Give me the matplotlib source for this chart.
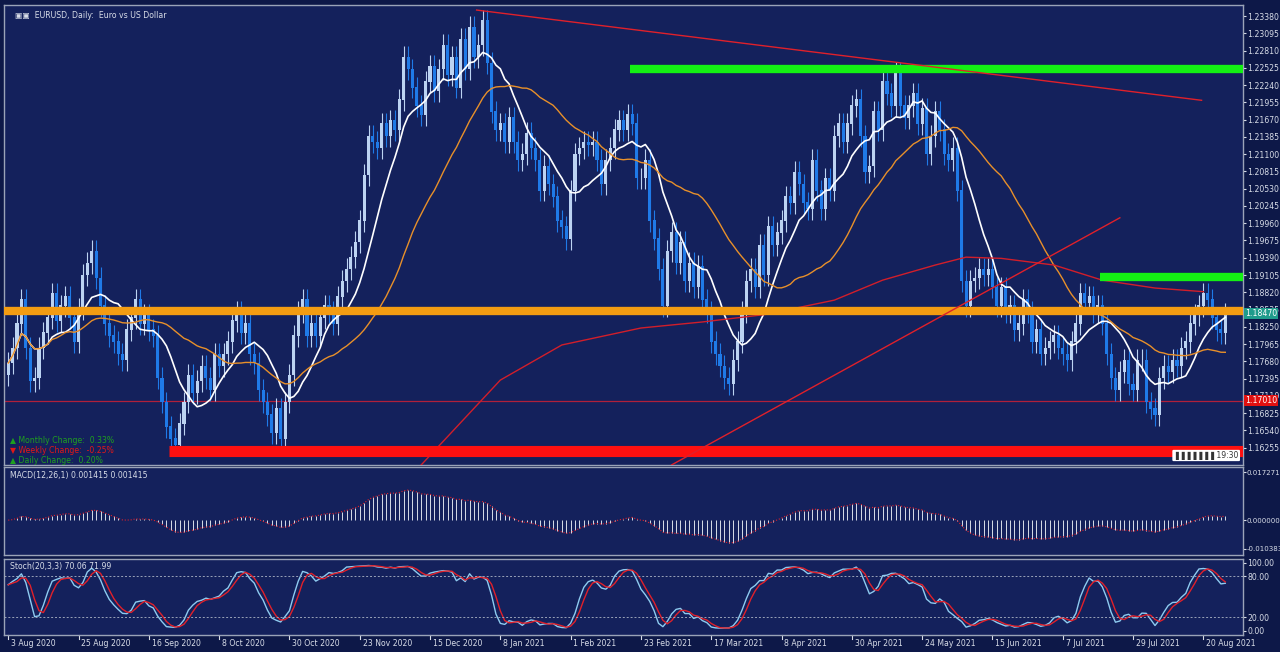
import matplotlib
matplotlib.use("Agg")
import matplotlib.pyplot as plt
import numpy as np
import pandas as pd

closes = [
1.1765,1.1790,1.1830,1.1870,1.1790,1.1735,1.1740,1.1790,1.1815,1.1840,1.1880,1.1835,1.1860,1.1875,1.1840,1.1800,
1.1855,1.1910,1.1930,1.1950,1.1905,1.1860,1.1830,1.1810,1.1800,1.1780,1.1770,1.1820,1.1840,1.1870,1.1830,1.1845,
1.1820,1.1810,1.1740,1.1700,1.1660,1.1640,1.1630,1.1665,1.1700,1.1745,1.1715,1.1735,1.1760,1.1740,1.1720,1.1780,
1.1760,1.1780,1.1800,1.1835,1.1850,1.1815,1.1830,1.1780,1.1765,1.1720,1.1700,1.1680,1.1650,1.1690,1.1640,1.1700,
1.1745,1.1810,1.1850,1.1870,1.1810,1.1830,1.1810,1.1840,1.1860,1.1850,1.1830,1.1875,1.1900,1.1920,1.1940,1.1965,
1.2000,1.2075,1.2140,1.2130,1.2120,1.2160,1.2140,1.2165,1.2150,1.2200,1.2270,1.2250,1.2220,1.2190,1.2175,1.2230,
1.2255,1.2215,1.2250,1.2290,1.2240,1.2270,1.2220,1.2300,1.2250,1.2320,1.2270,1.2290,1.2330,1.2260,1.2180,1.2150,
1.2160,1.2130,1.2170,1.2130,1.2100,1.2110,1.2145,1.2120,1.2100,1.2050,1.2090,1.2060,1.2040,1.2000,1.1990,1.1970,
1.2050,1.2110,1.2120,1.2130,1.2125,1.2130,1.2100,1.2060,1.2100,1.2120,1.2150,1.2165,1.2150,1.2175,1.2160,1.2070,
1.2070,1.2100,1.2000,1.1970,1.1920,1.1860,1.1950,1.1980,1.1930,1.1965,1.1900,1.1930,1.1890,1.1925,1.1870,1.1850,
1.1800,1.1780,1.1760,1.1740,1.1730,1.1770,1.1800,1.1850,1.1900,1.1920,1.1890,1.1960,1.1910,1.1990,1.1960,1.1980,
1.2000,1.2040,1.2030,1.2080,1.2060,1.2030,1.2020,1.2100,1.2050,1.2020,1.2070,1.2050,1.2140,1.2160,1.2130,1.2160,
1.2190,1.2200,1.2140,1.2080,1.2090,1.2180,1.2150,1.2230,1.2210,1.2190,1.2245,1.2190,1.2170,1.2190,1.2210,1.2160,
1.2185,1.2110,1.2140,1.2180,1.2150,1.2110,1.2100,1.2120,1.2050,1.1900,1.1860,1.1900,1.1905,1.1920,1.1910,1.1920,
1.1890,1.1860,1.1890,1.1850,1.1860,1.1820,1.1830,1.1870,1.1850,1.1800,1.1820,1.1780,1.1790,1.1800,1.1810,1.1790,
1.1780,1.1770,1.1800,1.1830,1.1880,1.1865,1.1875,1.1850,1.1860,1.1830,1.1780,1.1740,1.1720,1.1750,1.1770,1.1730,
1.1720,1.1770,1.1770,1.1700,1.1690,1.1680,1.1740,1.1760,1.1750,1.1770,1.1760,1.1790,1.1800,1.1830,1.1845,1.1860,
1.1880,1.1870,1.1840,1.1820,1.1815,1.1847]
first_open = 1.1745
ma200_idx = [94, 112, 126, 144, 158, 172, 188, 199, 211, 218, 226, 238, 249, 261, 272]
ma200_val = [1.1597,1.1737,1.1795,1.1823,1.1833,1.1845,1.1869,1.1902,1.1927,1.1940,1.1938,1.1927,1.1902,1.1889,1.1883]
res_green_top = 1.2251
res_green_low = 1.1907
orange_level = 1.1851
red_support = 1.1620
thin_red_level = 1.1703
last_price = 1.18470
down_trend = [(106.6, 1.2348), (271.6, 1.2199)]
up_trend = [(151.0, 1.1597), (253.0, 1.2005)]
price_ticks = [1.23380,1.23095,1.22810,1.22525,1.22240,1.21955,1.21670,1.21385,1.21100,1.20815,
               1.20530,1.20245,1.19960,1.19675,1.19390,1.19105,1.18820,1.18535,1.18250,1.17965,
               1.17680,1.17395,1.17110,1.16825,1.16540,1.16255]
date_labels = ['3 Aug 2020','25 Aug 2020','16 Sep 2020','8 Oct 2020','30 Oct 2020','23 Nov 2020',
               '15 Dec 2020','8 Jan 2021','1 Feb 2021','23 Feb 2021','17 Mar 2021','8 Apr 2021',
               '30 Apr 2021','24 May 2021','15 Jun 2021','7 Jul 2021','29 Jul 2021','20 Aug 2021']
WICK = 0.0018

c = np.array(closes)
o = np.concatenate([[first_open], c[:-1]])
h = np.maximum(o, c) + WICK
l = np.minimum(o, c) - WICK
n = len(c)
x = np.arange(n)
s = pd.Series(c)
ma_fast = s.rolling(10, min_periods=1).mean()
ma_slow = s.rolling(30, min_periods=1).mean()
macd = s.ewm(span=12, adjust=False).mean() - s.ewm(span=26, adjust=False).mean()
hh = pd.Series(h).rolling(20, min_periods=1).max(); ll = pd.Series(l).rolling(20, min_periods=1).min()
k = 100*(s - ll)/(hh - ll)
k = k.rolling(3, min_periods=1).mean()
d = k.rolling(3, min_periods=1).mean()

BG = '#14215c'; OUT = '#0d1848'; TXT = '#d8dde8'; GRID = '#9aa3b8'
FS = 5.6
fig = plt.figure(figsize=(12.8, 6.52), dpi=100, facecolor=OUT)
L, R = 0.003, 0.971
ax = fig.add_axes([L, 0.287, R-L, 0.705], facecolor=BG)
axm = fig.add_axes([L, 0.149, R-L, 0.134], facecolor=BG)
axs = fig.add_axes([L, 0.026, R-L, 0.117], facecolor=BG)
XL = (-1, 281)
for a in (ax, axm, axs):
    a.set_xlim(*XL)
    a.set_xticks([])
    a.yaxis.tick_right()
    a.tick_params(axis='y', colors=TXT, labelsize=FS, length=2.5, pad=0.5, direction='out')
    for sp in a.spines.values():
        sp.set_color(GRID); sp.set_linewidth(1)
axm.tick_params(axis='y', labelsize=5.0, pad=0.3)

ax.set_ylim(1.1597, 1.2356)
ax.set_yticks(price_ticks)
ax.set_yticklabels([f'{t:.5f}' for t in price_ticks])

bull = c >= o
col = np.where(bull, '#bcd3f2', '#1f7ae8')
ax.vlines(x, l, h, colors=col, lw=0.8, zorder=3)
ax.bar(x, np.abs(c-o)+0.00008, bottom=np.minimum(o, c), width=0.7, color=col, zorder=3)

ax.plot(x, ma_fast, color='white', lw=1.2, zorder=4)
ax.plot(x, ma_slow, color='#e8902a', lw=1.0, zorder=4)
ax.plot(ma200_idx, ma200_val, color='#d21e2a', lw=1.0, zorder=4)

ax.hlines(orange_level, XL[0], XL[1], color='#f39c12', lw=6, zorder=5)
ax.hlines(res_green_top, 141.5, XL[1], color='#14f014', lw=6, zorder=5)
ax.hlines(res_green_low, 248.5, XL[1], color='#14f014', lw=6, zorder=5)
ax.hlines(red_support, 36.5, XL[1], color='#ff1010', lw=8, zorder=5)
ax.hlines(thin_red_level, XL[0], XL[1], color='#b0203a', lw=0.9, zorder=2)
ax.hlines(last_price, XL[0], XL[1], color='#8090b0', lw=0.6, zorder=2)
ax.plot([p[0] for p in down_trend], [p[1] for p in down_trend], color='#e0202a', lw=1.0, zorder=5)
ax.plot([p[0] for p in up_trend], [p[1] for p in up_trend], color='#e0202a', lw=1.0, zorder=5)

ax.text(1.002, last_price, f'{last_price:.5f}', transform=ax.get_yaxis_transform(), fontsize=FS,
        color='white', va='center', ha='left', zorder=10,
        bbox=dict(boxstyle='square,pad=0.12', fc='#1f9c8c', ec='none'))
ax.text(1.002, thin_red_level, '1.17010', transform=ax.get_yaxis_transform(), fontsize=FS,
        color='white', va='center', ha='left', zorder=10,
        bbox=dict(boxstyle='square,pad=0.12', fc='#e01010', ec='none'))
ax.text(0.009, 0.988, '\u25a3\u25a3  EURUSD, Daily:  Euro vs US Dollar', transform=ax.transAxes, fontsize=FS,
        color=TXT, va='top')
ax.text(0.005, 0.052, '\u25b2 Monthly Change:  0.33%', transform=ax.transAxes, fontsize=FS, color='#1fa01f', va='center')
ax.text(0.005, 0.031, '\u25bc Weekly Change:  -0.25%', transform=ax.transAxes, fontsize=FS, color='#e01818', va='center')
ax.text(0.005, 0.010, '\u25b2 Daily Change:  0.20%', transform=ax.transAxes, fontsize=FS, color='#1fa01f', va='center')
ax.text(0.944, 0.015, '\u2590\u2590\u2590\u2590\u2590\u2590\u2590 19:30', transform=ax.transAxes, fontsize=5.5,
        color='#333', zorder=10, bbox=dict(boxstyle='round,pad=0.15', fc='white', ec='none'))

axm.vlines(x, 0, macd, colors='#d8dde8', lw=0.7)
axm.plot(x, macd, color='#e0202a', lw=0.8, ls=':')
axm.set_ylim(-0.0125, 0.0190)
axm.set_yticks([0.017271, 0.0, -0.010383])
axm.set_yticklabels(['0.017271', '0.000000', '-0.010383'])
axm.text(0.005, 0.96, f'MACD(12,26,1) {macd.iloc[-1]:.6f} {macd.iloc[-1]:.6f}', transform=axm.transAxes,
         fontsize=FS, color=TXT, va='top')

axs.plot(x, k, color='#8ecbf0', lw=1.0)
axs.plot(x, d, color='#e0202a', lw=1.0)
for lv in (80, 20):
    axs.axhline(lv, color=GRID, lw=0.7, ls=(0, (2, 2)))
axs.set_ylim(-6, 106)
axs.set_yticks([100, 80, 20, 0])
axs.set_yticklabels(['100.00', '80.00', '20.00', '0.00'])
axs.text(0.005, 0.96, f'Stoch(20,3,3) {k.iloc[-1]:.2f} {d.iloc[-1]:.2f}', transform=axs.transAxes,
         fontsize=FS, color=TXT, va='top')

step = 16
for i, lab in enumerate(date_labels):
    xi = i*step
    axs.annotate(lab, xy=(xi, 0), xycoords=('data', 'axes fraction'), xytext=(2, -3),
                 textcoords='offset points', fontsize=FS, color=TXT, va='top', ha='left')
    axs.plot([xi, xi], [0, -0.05], transform=axs.get_xaxis_transform(), color=TXT, lw=0.8, clip_on=False)

fig.savefig('out.png', dpi=100, facecolor=OUT)
